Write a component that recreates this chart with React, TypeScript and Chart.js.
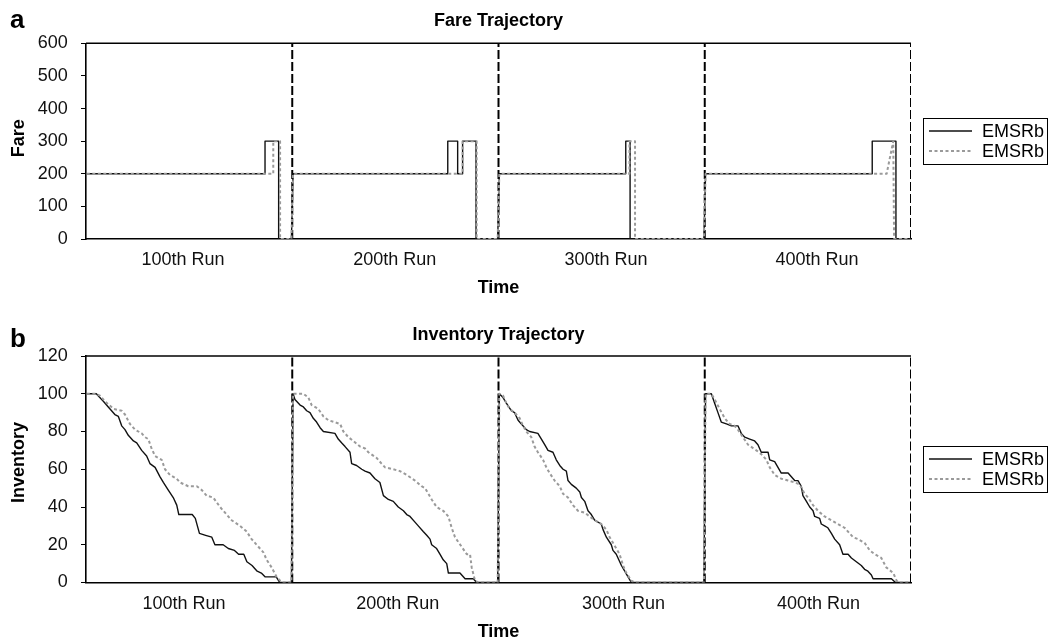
import React, { useEffect, useRef } from "react";
import { Chart, registerables } from "chart.js";

Chart.register(...registerables);

const FONT = '"Liberation Sans", Arial, Helvetica, sans-serif';

type Pt = [number, number];

// ---------- categories / labels ----------
const runLabels = ["100th Run", "200th Run", "300th Run", "400th Run"];
const runLength = 100;
const runBoundaries = [100, 200, 300, 400];
const fareRunLabelAt = [47, 149.7, 252.1, 354.4];
const invRunLabelAt = [47.5, 151.2, 260.6, 355.2];
const seriesNames = ["EMSRb", "EMSRb"];
const fareMax = 600;
const fareStep = 100;
const invMax = 120;
const invStep = 20;

// ---------- Fare trajectory (local time within run, fare) ----------
const fareSolidRun1: Pt[] = [[0.4, 200], [86.8, 200], [86.8, 300], [93.4, 300], [93.4, 0], [99.6, 0]];
const fareSolidRun2: Pt[] = [[0.4, 200], [75.4, 200], [75.4, 300], [80.2, 300], [80.2, 200], [82.6, 200], [82.6, 300], [89.1, 300], [89.1, 0], [99.6, 0]];
const fareSolidRun3: Pt[] = [[0.4, 200], [61.7, 200], [61.7, 300], [63.8, 300], [63.8, 0], [99.6, 0]];
const fareSolidRun4: Pt[] = [[0.4, 200], [81.2, 200], [81.2, 300], [92.7, 300], [92.7, 0], [99.6, 0]];

const fareDottedRun1: Pt[] = [[0.4, 200], [90.8, 200], [90.8, 300], [94.1, 300], [94.1, 0], [99.6, 0]];
const fareDottedRun2: Pt[] = [[0.4, 200], [82.6, 200], [82.6, 300], [89.4, 300], [89.4, 0], [99.6, 0]];
const fareDottedRun3: Pt[] = [[0.4, 200], [63.5, 200], [63.5, 300], [66.2, 300], [66.2, 0], [99.6, 0]];
const fareDottedRun4: Pt[] = [[0.4, 200], [88.2, 200], [91.4, 300], [91.8, 0], [99.6, 0]];

// ---------- Inventory trajectory (local time within run, seats left) ----------
const invSolidRun1: Pt[] = [[0.4, 100], [5, 100], [8.4, 96], [10.8, 93], [14, 89], [15.7, 88], [17.3, 83], [18.9, 81], [20.5, 78], [23, 75], [24.6, 74], [27, 70], [29.4, 67], [31, 63], [33.5, 61], [35.9, 56], [37.5, 53], [39.9, 49], [42.3, 45], [44, 41], [45, 36], [51.5, 36], [53, 34], [55, 26], [58, 25], [61, 24], [62.5, 20], [66.5, 20], [69, 18], [72, 17], [74, 15], [76.5, 15], [78, 11], [80.5, 9], [83, 6], [85, 5], [86.8, 3], [92.2, 3], [94, 0], [99.6, 0]];
const invSolidRun2: Pt[] = [[0.4, 100], [1.3, 97], [3.8, 94], [5.4, 93], [7, 91], [8.6, 90], [10.2, 87], [11.8, 85], [13.5, 82], [15.1, 80], [20.7, 79], [22.3, 76], [23.9, 74], [25.6, 72], [28, 69], [28.8, 63], [31.2, 62], [33.7, 60], [35.3, 59], [37.7, 58], [40.1, 55], [42.5, 53], [44.2, 46], [46.6, 44], [49, 43], [51.4, 40], [53.9, 38], [55.5, 36], [57.1, 35], [59.5, 32], [61.1, 30], [63.5, 27], [65.2, 25], [66.8, 23], [67.6, 20], [70, 18], [71.6, 15], [73.2, 12], [74.9, 10], [75.7, 5], [81.3, 5], [83.8, 2], [87.8, 2], [89.4, 0], [99.6, 0]];
const invSolidRun3: Pt[] = [[0.4, 100], [2.2, 98], [3.8, 95], [6.2, 91], [7.8, 90], [9.5, 86], [11.1, 84], [13.5, 81], [15.1, 80], [19.1, 79], [20.8, 76], [22.4, 73], [24, 70], [26.4, 69], [28, 65], [29.7, 62], [31.3, 60], [32.9, 59], [33.7, 54], [35.3, 52], [37.7, 50], [39.4, 48], [40.2, 45], [41.8, 43], [43.4, 38], [45, 36], [46.6, 33], [49.8, 31], [50.7, 28], [52.3, 24], [54.7, 20], [55.5, 17], [57.1, 15], [59.6, 9], [61.2, 6], [62.8, 3], [64.4, 0], [99.6, 0]];
const invSolidRun4: Pt[] = [[0.4, 100], [3.2, 100], [4.8, 95], [6.4, 90], [8, 85], [10.5, 84], [12.9, 83], [16.1, 83], [17.7, 79], [19.4, 77], [21.8, 76], [24.2, 75], [25.8, 73], [27.4, 69], [30.7, 69], [31.5, 65], [33.9, 64], [35.5, 61], [37.1, 58], [40.4, 58], [42, 56], [43.6, 54], [45.2, 54], [46.8, 51], [47.6, 46], [49.3, 43], [50.9, 40], [52.5, 38], [53.3, 35], [55.7, 34], [56.5, 31], [58.1, 30], [59.7, 29], [61.4, 26], [63, 23], [65.4, 20], [67, 15], [69.5, 15], [71.1, 13], [73.5, 11], [75.9, 9], [77.5, 7], [79.1, 6], [80.8, 4], [81.6, 2], [90.5, 2], [92.5, 0], [99.6, 0]];

const invDottedRun1: Pt[] = [[0.4, 100], [4.4, 100], [6.8, 99], [9.2, 96], [13.3, 92], [17.3, 91], [18.9, 89], [21.3, 84], [23.8, 81], [27, 79], [28.6, 77], [30.2, 76], [31.8, 71], [33.5, 67], [36.7, 65], [38.3, 60], [40.7, 57], [44, 55], [45.6, 53], [49.6, 51], [53.7, 51], [56.1, 49], [58.5, 46], [61.7, 45], [65, 40], [67.4, 37], [70.6, 33], [74.7, 30], [77.9, 27], [80.3, 23], [82.7, 20], [86, 16], [87.6, 12], [90, 8], [92.4, 3], [94.1, 1], [95.5, 0], [99.6, 0]];
const invDottedRun2: Pt[] = [[0.4, 100], [5.4, 100], [7.8, 98], [9.4, 94], [12.6, 92], [15.1, 88], [17.5, 86], [23.2, 84], [24.8, 80], [27.2, 77], [29.6, 75], [32.9, 72], [35.3, 71], [36.9, 69], [40.9, 66], [43.3, 63], [45, 61], [49, 60], [52.2, 59], [55.5, 57], [59.5, 54], [62.7, 51], [64.4, 50], [67.6, 44], [70, 40], [73.2, 38], [75.7, 35], [77.3, 29], [78.9, 24], [82.1, 19], [84.6, 15], [86.2, 15], [87, 8], [88.6, 1], [90.2, 0], [99.6, 0]];
const invDottedRun3: Pt[] = [[0.4, 100], [2.2, 99], [3.8, 95], [5.4, 92], [7.8, 90], [10.3, 87], [11.9, 83], [13.5, 80], [15.9, 77], [17.5, 72], [19.1, 69], [21.6, 65], [23.2, 61], [24.8, 58], [27.2, 54], [29.7, 51], [31.3, 47], [33.7, 45], [36.1, 41], [38.5, 38], [41.8, 37], [44.2, 35], [46.6, 33], [49.8, 31], [52.3, 28], [53.9, 24], [55.5, 21], [57.1, 18], [58.7, 15], [60.4, 9], [62, 5], [64.4, 1], [66, 0], [99.6, 0]];
const invDottedRun4: Pt[] = [[0.4, 100], [3.2, 100], [4.8, 97], [7.2, 92], [9.7, 87], [12.1, 84], [14.5, 83], [16.1, 81], [18.5, 77], [21, 73], [25, 70], [27.4, 68], [29.9, 65], [31.5, 61], [33.9, 57], [37.1, 55], [40.4, 54], [43.6, 53], [46, 52], [48.4, 47], [50.1, 45], [52.5, 41], [54.9, 38], [58.1, 35], [61.4, 33], [64.6, 31], [67.8, 29], [71.9, 24], [74.3, 23], [77.5, 21], [80, 17], [82.4, 15], [85.6, 13], [88, 8], [91.4, 5], [93, 1], [93.9, 0], [99.6, 0]];

// ---------- helpers ----------
function joinRuns(runs: Pt[][]) {
  const out: { x: number; y: number }[] = [];
  runs.forEach((run, i) => run.forEach(([lx, y]) => out.push({ x: i * runLength + lx, y })));
  return out;
}

function boundaryData(top: number) {
  const out: { x: number; y: number | null }[] = [];
  runBoundaries.forEach((b) => {
    out.push({ x: b, y: 0 }, { x: b, y: top }, { x: b, y: null });
  });
  return out;
}

const frameTopPlugin = {
  id: "frameTop",
  afterDatasetsDraw(chart: any) {
    const { ctx, chartArea: a } = chart;
    ctx.save();
    ctx.strokeStyle = "#000";
    ctx.lineWidth = 1.6;
    ctx.beginPath();
    ctx.moveTo(a.left, a.top);
    ctx.lineTo(a.right, a.top);
    ctx.stroke();
    ctx.restore();
  },
};

const boxLegendPlugin = {
  id: "boxLegend",
  afterDraw(chart: any, _args: any, o: any) {
    const { ctx, chartArea: a } = chart;
    const items = chart.data.datasets.filter((d: any) => d.label);
    const w = o.width;
    const h = o.height;
    const left = Math.round(a.right + o.gap);
    const top = Math.round((a.top + a.bottom) / 2 - h / 2 + (o.dy || 0));
    ctx.save();
    ctx.strokeStyle = "#000";
    ctx.lineWidth = 1;
    ctx.strokeRect(left + 0.5, top + 0.5, w, h);
    items.forEach((d: any, i: number) => {
      const y = top + h / 2 + (i - (items.length - 1) / 2) * o.rowGap;
      ctx.save();
      ctx.strokeStyle = d.borderColor;
      ctx.lineWidth = d.borderWidth;
      ctx.setLineDash(d.borderDash || []);
      ctx.beginPath();
      ctx.moveTo(left + 6, y);
      ctx.lineTo(left + 49, y);
      ctx.stroke();
      ctx.restore();
      ctx.fillStyle = "#000";
      ctx.font = `18px ${FONT}`;
      ctx.textAlign = "left";
      ctx.textBaseline = "middle";
      ctx.fillText(d.label, left + 59, y + 1);
    });
    ctx.restore();
  },
};

const panelDecorPlugin = {
  id: "panelDecor",
  afterDraw(chart: any, _args: any, o: any) {
    const ctx = chart.ctx;
    ctx.save();
    ctx.fillStyle = "#000";
    ctx.font = `bold 26px ${FONT}`;
    ctx.textAlign = "left";
    ctx.textBaseline = "alphabetic";
    ctx.fillText(o.letter, o.letterX, o.letterY);
    ctx.translate(o.yTitleX, o.yTitleY);
    ctx.rotate(-Math.PI / 2);
    ctx.font = `bold 18px ${FONT}`;
    ctx.textAlign = "center";
    ctx.textBaseline = "middle";
    ctx.fillText(o.yTitle, 0, 0);
    ctx.restore();
  },
};

function makeConfig(p: any): any {
  const lineCommon = {
    pointRadius: 0,
    pointHoverRadius: 0,
    tension: 0,
    fill: false,
    spanGaps: false,
    borderJoinStyle: "round",
  };
  return {
    type: "line",
    data: {
      datasets: [
        { ...lineCommon, label: seriesNames[0], data: joinRuns(p.solid), borderColor: "#111111", borderWidth: 1.4, order: 1 },
        { ...lineCommon, label: seriesNames[1], data: joinRuns(p.dotted), borderColor: "#9a9a9a", borderWidth: 2, borderDash: [3, 2.5], order: 0 },
        { ...lineCommon, data: boundaryData(p.yMax), borderColor: "#000000", borderWidth: 2, borderDash: [9, 3], order: 2 },
      ],
    },
    options: {
      responsive: false,
      maintainAspectRatio: false,
      animation: false,
      devicePixelRatio: 1,
      events: [],
      layout: { padding: { left: 0, right: 1055 - 911, top: 0, bottom: 0 } },
      plugins: {
        legend: { display: false },
        tooltip: { enabled: false },
        title: {
          display: true,
          fullSize: false,
          text: p.title,
          color: "#000",
          font: { family: FONT, size: 18, weight: "bold" },
          padding: { top: p.titleTop, bottom: p.titleBottom },
        },
        boxLegend: { width: 124, height: 46, gap: 12, rowGap: 20, dy: 0 },
        panelDecor: { letter: p.letter, letterX: 10, letterY: p.letterY, yTitle: p.yTitle, yTitleX: 18.6, yTitleY: p.yTitleY },
      },
      scales: {
        x: {
          type: "linear",
          min: 0,
          max: runLength * runLabels.length,
          afterBuildTicks: (s: any) => {
            s.ticks = p.labelAt.map((v: number) => ({ value: v }));
          },
          afterFit: (s: any) => {
            s.height = p.xHeight;
          },
          ticks: {
            autoSkip: false,
            maxRotation: 0,
            minRotation: 0,
            padding: p.xPad,
            color: "#111",
            font: { family: FONT, size: 18 },
            callback: (_v: any, i: number) => runLabels[i],
          },
          grid: { display: false, drawTicks: false },
          border: { display: true, color: "#000", width: 1.6 },
          title: {
            display: true,
            text: "Time",
            color: "#000",
            font: { family: FONT, size: 18, weight: "bold" },
            padding: { top: 0, bottom: p.timeBottom },
          },
        },
        y: {
          type: "linear",
          min: 0,
          max: p.yMax,
          afterFit: (s: any) => {
            s.width = 86;
          },
          ticks: { stepSize: p.step, padding: 13.3, color: "#111", font: { family: FONT, size: 18 } },
          grid: { display: true, drawOnChartArea: false, drawTicks: true, tickLength: 5, color: "#000", lineWidth: 1 },
          border: { display: true, color: "#000", width: 1.6 },
        },
      },
    },
    plugins: [frameTopPlugin, boxLegendPlugin, panelDecorPlugin],
  };
}

function Panel({ config, top, height }: { config: any; top: number; height: number }) {
  const ref = useRef<HTMLCanvasElement | null>(null);
  useEffect(() => {
    if (!ref.current) return;
    const chart = new Chart(ref.current, config);
    return () => chart.destroy();
  }, [config]);
  return (
    <canvas
      ref={ref}
      width={1055}
      height={height}
      style={{ position: "absolute", left: 0, top, width: 1055, height, display: "block" }}
    />
  );
}

const fareConfig = makeConfig({
  solid: [fareSolidRun1, fareSolidRun2, fareSolidRun3, fareSolidRun4],
  dotted: [fareDottedRun1, fareDottedRun2, fareDottedRun3, fareDottedRun4],
  yMax: fareMax,
  step: fareStep,
  title: "Fare Trajectory",
  titleTop: 9.9,
  titleBottom: 11.8,
  xHeight: 61,
  xPad: 10.2,
  timeBottom: 0.9,
  labelAt: fareRunLabelAt,
  letter: "a",
  letterY: 28.3,
  yTitle: "Fare",
  yTitleY: 138.3,
});

const invConfig = makeConfig({
  solid: [invSolidRun1, invSolidRun2, invSolidRun3, invSolidRun4],
  dotted: [invDottedRun1, invDottedRun2, invDottedRun3, invDottedRun4],
  yMax: invMax,
  step: invStep,
  title: "Inventory Trajectory",
  titleTop: 24.2,
  titleBottom: 10.2,
  xHeight: 62.5,
  xPad: 11,
  timeBottom: 2.5,
  labelAt: invRunLabelAt,
  letter: "b",
  letterY: 46.7,
  yTitle: "Inventory",
  yTitleY: 162.5,
});

export default function App() {
  return (
    <div
      style={{
        position: "absolute",
        left: 0,
        top: 0,
        width: 1055,
        height: 638,
        overflow: "hidden",
        background: "#fff",
      }}
    >
      <Panel config={fareConfig} top={0} height={300} />
      <Panel config={invConfig} top={300} height={345} />
    </div>
  );
}
